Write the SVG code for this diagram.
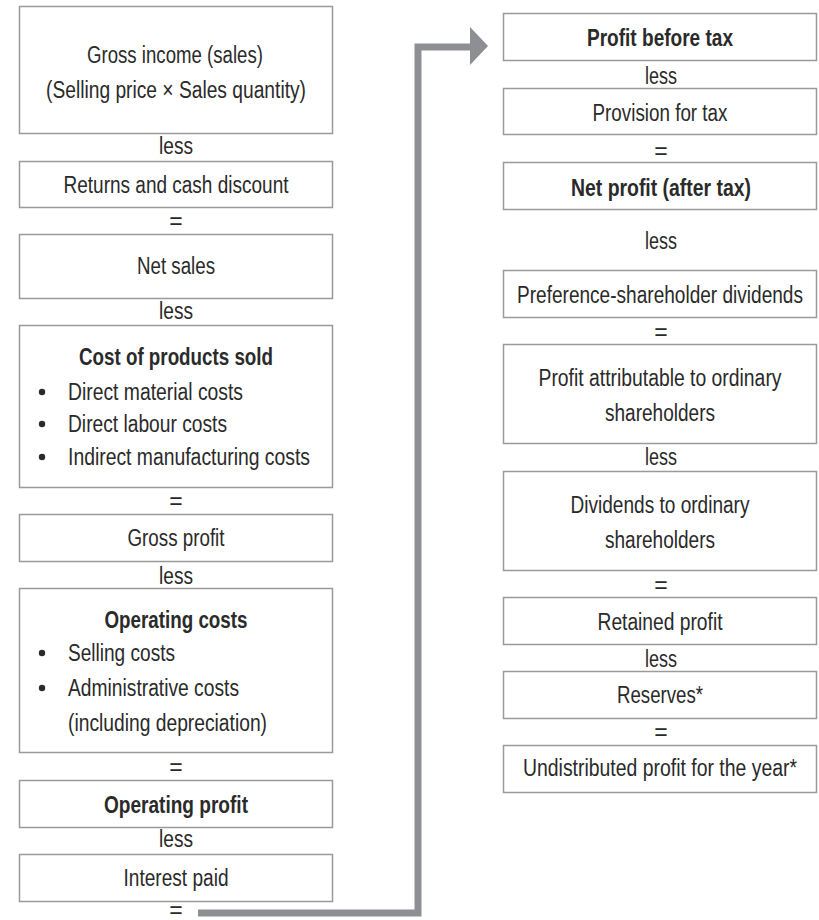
<svg xmlns="http://www.w3.org/2000/svg" width="819" height="920" viewBox="0 0 819 920">
  <style>
    .box { fill: #ffffff; stroke: #9a9a9a; stroke-width: 1.5; }
    text { font-family: "Liberation Sans", Arial, sans-serif; font-size: 23px; fill: #2a2a2a; }
    .c { text-anchor: middle; }
    .b { font-weight: bold; }
    .op { text-anchor: middle; }
    .dot { fill: #2a2a2a; }
    .flow { fill: none; stroke: #8e8f92; stroke-width: 7; stroke-linejoin: miter; }
    .head { fill: #8e8f92; }
  </style>
  <rect width="819" height="920" fill="#ffffff"/>

  <!-- Left column: from gross income down to profit before tax -->
  <g id="gross-income">
    <rect class="box" x="19.5" y="6.5" width="313" height="127"/>
    <text class="c" x="175" y="63" textLength="176" lengthAdjust="spacingAndGlyphs">Gross income (sales)</text>
    <text class="c" x="176" y="98" textLength="260" lengthAdjust="spacingAndGlyphs">(Selling price × Sales quantity)</text>
  </g>
  <text class="op" x="176" y="154" textLength="34" lengthAdjust="spacingAndGlyphs">less</text>

  <g id="returns">
    <rect class="box" x="19.5" y="161.5" width="313" height="46"/>
    <text class="c" x="176" y="193" textLength="225" lengthAdjust="spacingAndGlyphs">Returns and cash discount</text>
  </g>
  <text class="op" x="176" y="229">=</text>

  <g id="net-sales">
    <rect class="box" x="19.5" y="234.5" width="313" height="64"/>
    <text class="c" x="176" y="274" textLength="78" lengthAdjust="spacingAndGlyphs">Net sales</text>
  </g>
  <text class="op" x="176" y="319" textLength="34" lengthAdjust="spacingAndGlyphs">less</text>

  <g id="cost-of-products">
    <rect class="box" x="19.5" y="325.5" width="313" height="162"/>
    <text class="c b" x="176" y="365" textLength="194" lengthAdjust="spacingAndGlyphs">Cost of products sold</text>
    <circle class="dot" cx="42" cy="392" r="3.2"/>
    <text x="68" y="400" textLength="175" lengthAdjust="spacingAndGlyphs">Direct material costs</text>
    <circle class="dot" cx="42" cy="424" r="3.2"/>
    <text x="68" y="431.5" textLength="159" lengthAdjust="spacingAndGlyphs">Direct labour costs</text>
    <circle class="dot" cx="42" cy="457" r="3.2"/>
    <text x="68" y="465" textLength="242" lengthAdjust="spacingAndGlyphs">Indirect manufacturing costs</text>
  </g>
  <text class="op" x="176" y="509">=</text>

  <g id="gross-profit">
    <rect class="box" x="19.5" y="514.5" width="313" height="47"/>
    <text class="c" x="176" y="546" textLength="97" lengthAdjust="spacingAndGlyphs">Gross profit</text>
  </g>
  <text class="op" x="176" y="584" textLength="34" lengthAdjust="spacingAndGlyphs">less</text>

  <g id="operating-costs">
    <rect class="box" x="19.5" y="588.5" width="313" height="164"/>
    <text class="c b" x="176" y="628" textLength="143" lengthAdjust="spacingAndGlyphs">Operating costs</text>
    <circle class="dot" cx="42" cy="653" r="3.2"/>
    <text x="68" y="661" textLength="107" lengthAdjust="spacingAndGlyphs">Selling costs</text>
    <circle class="dot" cx="42" cy="688" r="3.2"/>
    <text x="68" y="696" textLength="171" lengthAdjust="spacingAndGlyphs">Administrative costs</text>
    <text x="68" y="731" textLength="199" lengthAdjust="spacingAndGlyphs">(including depreciation)</text>
  </g>
  <text class="op" x="176" y="775">=</text>

  <g id="operating-profit">
    <rect class="box" x="19.5" y="780.5" width="313" height="47"/>
    <text class="c b" x="176" y="813" textLength="144" lengthAdjust="spacingAndGlyphs">Operating profit</text>
  </g>
  <text class="op" x="176" y="847" textLength="34" lengthAdjust="spacingAndGlyphs">less</text>

  <g id="interest-paid">
    <rect class="box" x="19.5" y="854.5" width="313" height="47"/>
    <text class="c" x="176" y="886" textLength="105" lengthAdjust="spacingAndGlyphs">Interest paid</text>
  </g>
  <text class="op" x="176" y="918">=</text>

  <!-- Carry-over arrow from the left column to the right column -->
  <g id="connectors">
    <path class="flow" d="M198 913 H418 V47 H472"/>
    <polygon class="head" points="470,27 488,46 470,65"/>
  </g>

  <!-- Right column: from profit before tax down to undistributed profit -->
  <g id="profit-before-tax">
    <rect class="box" x="503.5" y="13.5" width="313" height="47"/>
    <text class="c b" x="660" y="46" textLength="146" lengthAdjust="spacingAndGlyphs">Profit before tax</text>
  </g>
  <text class="op" x="661" y="84" textLength="32" lengthAdjust="spacingAndGlyphs">less</text>

  <g id="provision-for-tax">
    <rect class="box" x="503.5" y="88.5" width="313" height="46"/>
    <text class="c" x="660" y="121" textLength="135" lengthAdjust="spacingAndGlyphs">Provision for tax</text>
  </g>
  <text class="op" x="661" y="159">=</text>

  <g id="net-profit">
    <rect class="box" x="503.5" y="162.5" width="313" height="47"/>
    <text class="c b" x="661" y="196" textLength="180" lengthAdjust="spacingAndGlyphs">Net profit (after tax)</text>
  </g>
  <text class="op" x="661" y="249" textLength="32" lengthAdjust="spacingAndGlyphs">less</text>

  <g id="preference-dividends">
    <rect class="box" x="503.5" y="270.5" width="313" height="47"/>
    <text class="c" x="660" y="303" textLength="286" lengthAdjust="spacingAndGlyphs">Preference-shareholder dividends</text>
  </g>
  <text class="op" x="661" y="340">=</text>

  <g id="profit-attributable">
    <rect class="box" x="503.5" y="344.5" width="313" height="99"/>
    <text class="c" x="660" y="386" textLength="243" lengthAdjust="spacingAndGlyphs">Profit attributable to ordinary</text>
    <text class="c" x="660" y="421" textLength="110" lengthAdjust="spacingAndGlyphs">shareholders</text>
  </g>
  <text class="op" x="661" y="465" textLength="32" lengthAdjust="spacingAndGlyphs">less</text>

  <g id="ordinary-dividends">
    <rect class="box" x="503.5" y="471.5" width="313" height="99"/>
    <text class="c" x="660" y="513" textLength="179" lengthAdjust="spacingAndGlyphs">Dividends to ordinary</text>
    <text class="c" x="660" y="548" textLength="110" lengthAdjust="spacingAndGlyphs">shareholders</text>
  </g>
  <text class="op" x="661" y="593">=</text>

  <g id="retained-profit">
    <rect class="box" x="503.5" y="597.5" width="313" height="47"/>
    <text class="c" x="660" y="630" textLength="125" lengthAdjust="spacingAndGlyphs">Retained profit</text>
  </g>
  <text class="op" x="661" y="667" textLength="32" lengthAdjust="spacingAndGlyphs">less</text>

  <g id="reserves">
    <rect class="box" x="503.5" y="671.5" width="313" height="47"/>
    <text class="c" x="660" y="703" textLength="86" lengthAdjust="spacingAndGlyphs">Reserves*</text>
  </g>
  <text class="op" x="661" y="740">=</text>

  <g id="undistributed-profit">
    <rect class="box" x="503.5" y="745.5" width="313" height="47"/>
    <text class="c" x="660" y="776" textLength="274" lengthAdjust="spacingAndGlyphs">Undistributed profit for the year*</text>
  </g>
</svg>
